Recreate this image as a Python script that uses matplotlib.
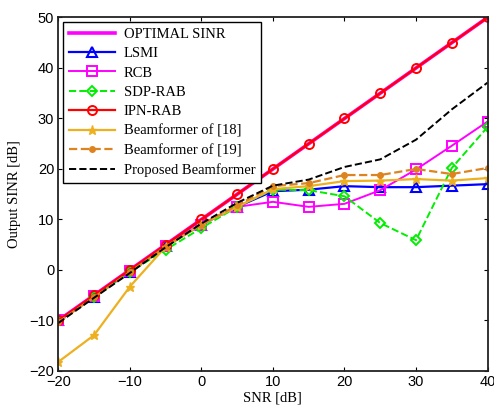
import numpy as np
import matplotlib
matplotlib.use("Agg")
import matplotlib.pyplot as plt

snr = [-20, -15, -10, -5, 0, 5, 10, 15, 20, 25, 30, 35, 40]

optimal = [-10, -5, 0, 5, 10, 15, 20, 25, 30, 35, 40, 45, 50]
ipn_rab = [-10, -5, 0, 5, 10, 15, 20, 25, 30, 35, 40, 45, 50]
lsmi = [-10, -5.3, -0.3, 4.7, 9.0, 12.5, 15.6, 15.9, 16.6, 16.4, 16.4, 16.7, 17.0]
rcb = [-10, -5.2, -0.2, 4.8, 9.0, 12.5, 13.5, 12.5, 13.1, 15.8, 19.9, 24.6, 29.4]
sdp_rab = [-10, -5.3, -0.4, 4.0, 8.3, 12.5, 15.9, 15.8, 14.6, 9.3, 5.9, 20.2, 28.3]
bf18 = [-18.2, -12.9, -3.3, 4.6, 9.0, 12.5, 16.0, 16.6, 17.6, 17.7, 18.0, 17.7, 18.2]
bf19 = [-10.3, -5.4, -0.4, 4.6, 9.0, 12.8, 16.6, 17.2, 18.8, 18.8, 20.0, 19.0, 20.2]
proposed = [-10.5, -5.5, -0.6, 4.5, 9.2, 13.3, 16.7, 17.9, 20.4, 21.9, 25.8, 31.8, 37.1]

serif = ["Liberation Serif", "DejaVu Serif"]
sans = ["Liberation Sans", "DejaVu Sans"]

fig = plt.figure(figsize=(4.94, 4.13), dpi=100)
ax = fig.add_axes([0.118, 0.1017, 0.869, 0.856])

ax.plot(snr, optimal, color="#ff00ff", lw=2.6, label="OPTIMAL SINR")
ax.plot(snr, lsmi, color="#0000ff", lw=1.6, marker="^", ms=6.5, mfc="none",
        mew=1.5, label="LSMI")
ax.plot(snr, rcb, color="#ff00ff", lw=1.4, marker="s", ms=6.5, mfc="none",
        mew=1.4, label="RCB")
ax.plot(snr, sdp_rab, color="#00ee00", lw=1.4, ls="--", marker="D", ms=5.5,
        mfc="none", mew=1.4, label="SDP-RAB")
ax.plot(snr, ipn_rab, color="#ff0000", lw=1.6, marker="o", ms=6.5, mfc="none",
        mew=1.4, label="IPN-RAB")
ax.plot(snr, bf18, color="#edb120", lw=1.6, marker="*", ms=6.5,
        label="Beamformer of [18]")
ax.plot(snr, bf19, color="#dd8420", lw=1.6, ls="--", marker="o", ms=4,
        label="Beamformer of [19]")
ax.plot(snr, proposed, color="black", lw=1.4, ls="--",
        label="Proposed Beamformer")

ax.set_xlim(-20, 40)
ax.set_ylim(-20, 50)
ax.set_xticks(range(-20, 41, 10))
ax.set_yticks(range(-20, 51, 10))
ax.tick_params(direction="in", top=True, right=True, length=3, width=0.8,
               labelsize=10.5, pad=3)
for lab in ax.get_xticklabels() + ax.get_yticklabels():
    lab.set_family(sans)
for s in ax.spines.values():
    s.set_linewidth(1.3)
    s.set_color("#222222")

ax.set_xlabel("SNR [dB]", family=serif, fontsize=10.5, labelpad=2)
ax.set_ylabel("Output SINR [dB]", family=serif, fontsize=10.5, labelpad=6)

leg = ax.legend(loc="upper left", prop={"family": serif, "size": 10.5},
                fancybox=False, edgecolor="black", framealpha=1,
                handlelength=3.2, borderaxespad=0.3, labelspacing=0.42,
                borderpad=0.4, handletextpad=0.6)
leg.get_frame().set_linewidth(1.0)

fig.savefig("out.png", dpi=100)
